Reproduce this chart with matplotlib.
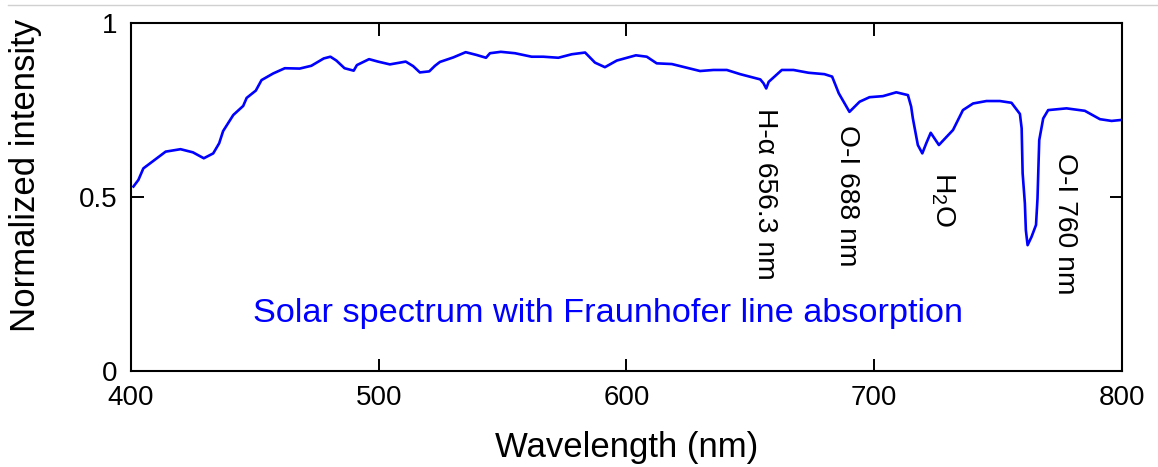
import matplotlib
matplotlib.use('Agg')
import matplotlib.pyplot as plt
from matplotlib.lines import Line2D

plt.rcParams['font.family'] = ['Liberation Sans', 'DejaVu Sans']
plt.rcParams['mathtext.fontset'] = 'custom'
plt.rcParams['mathtext.rm'] = 'Liberation Sans'
plt.rcParams['mathtext.it'] = 'Liberation Sans:italic'

# spectrum
wavelength = [401, 403, 405, 414, 420, 425, 429.4, 433.2, 435.6, 437.2, 441.3, 445.3,
              446.7, 450.4, 452.7, 457.4, 462.1, 468.1, 472.8, 477.8, 480.5, 482.9,
              486.2, 489.9, 491.2, 496.1, 499.7, 504.5, 510.9, 513.9, 516.6, 520.4,
              522.7, 524.7, 530.1, 535.1, 539.5, 543.3, 544.9, 549.3, 555.0, 561.7,
              566.4, 572.5, 577.9, 583.3, 587.3, 591.3, 596.1, 603.8, 608.2, 612.2,
              618.3, 629.7, 635.1, 640.5, 645.9, 654.0, 655.3, 656.4, 657.4, 662.7,
              667.4, 673.5, 679.9, 683.0, 685.7, 690.0, 694.1, 698.1, 703.5, 708.9,
              713.6, 714.9, 715.6, 717.6, 719.4, 721.0, 722.8, 726.1, 731.8, 735.8,
              739.9, 745.3, 750.7, 755.4, 758.8, 759.5, 759.9, 760.8, 761.2, 761.9,
              763.5, 765.3, 765.9, 766.6, 768.2, 770.2, 777.6, 785.0, 791.1, 795.8, 800]
intensity = [0.53, 0.549, 0.582, 0.630, 0.637, 0.628, 0.611, 0.625, 0.654, 0.689, 0.735, 0.761,
             0.784, 0.805, 0.835, 0.854, 0.869, 0.868, 0.876, 0.897, 0.902, 0.891,
             0.869, 0.862, 0.878, 0.895, 0.888, 0.880, 0.888, 0.875, 0.857, 0.860,
             0.876, 0.887, 0.900, 0.915, 0.907, 0.899, 0.912, 0.916, 0.912, 0.902,
             0.902, 0.899, 0.909, 0.914, 0.885, 0.872, 0.891, 0.906, 0.902, 0.883,
             0.881, 0.861, 0.864, 0.864, 0.852, 0.837, 0.826, 0.811, 0.830, 0.864,
             0.864, 0.856, 0.852, 0.845, 0.797, 0.744, 0.773, 0.786, 0.789, 0.800,
             0.792, 0.759, 0.725, 0.649, 0.625, 0.654, 0.684, 0.649, 0.692, 0.749,
             0.768, 0.775, 0.775, 0.770, 0.738, 0.697, 0.568, 0.482, 0.405, 0.362,
             0.386, 0.420, 0.496, 0.663, 0.725, 0.749, 0.754, 0.747, 0.723, 0.718, 0.721]

line_labels = ['H-α 656.3 nm', 'O-I 688 nm', r'H$_2$O', 'O-I 760 nm']
label_x = [656.0, 688.9, 727.5, 777.0]
label_top = [0.755, 0.706, 0.573, 0.625]

fig = plt.figure(figsize=(11.58, 4.67), dpi=100)
ax = fig.add_axes([0.1131, 0.2045, 0.8558, 0.7473])

ax.plot(wavelength, intensity, color='#0000ff', lw=1.9)

for txt, x, y in zip(line_labels, label_x, label_top):
    ax.text(x, y, txt, rotation=270, ha='center', va='top', fontsize=20.3, color='black')

ax.text(592.5, 0.165, 'Solar spectrum with Fraunhofer line absorption',
        ha='center', va='center', fontsize=24.7, color='#0000ff')

ax.set_xlim(400, 800)
ax.set_ylim(0, 1)
ax.set_xticks([400, 500, 600, 700, 800])
ax.set_yticks([0, 0.5, 1])
ax.set_yticklabels(['0', '0.5', '1'])
ax.tick_params(direction='in', length=9, width=1.4, labelsize=20, top=True, right=True)
ax.tick_params(axis='x', pad=10)
ax.tick_params(axis='y', pad=10)
for s in ax.spines.values():
    s.set_linewidth(1.5)

ax.set_xlabel('Wavelength (nm)', fontsize=25, labelpad=14)
ax.set_ylabel('Normalized intensity', fontsize=25)
ax.yaxis.set_label_coords(-0.0898, 0.563)

fig.add_artist(Line2D([0.007, 1], [0.989, 0.989], transform=fig.transFigure,
                      color='#d0d0d0', lw=1))

fig.savefig('out.png', dpi=100)
